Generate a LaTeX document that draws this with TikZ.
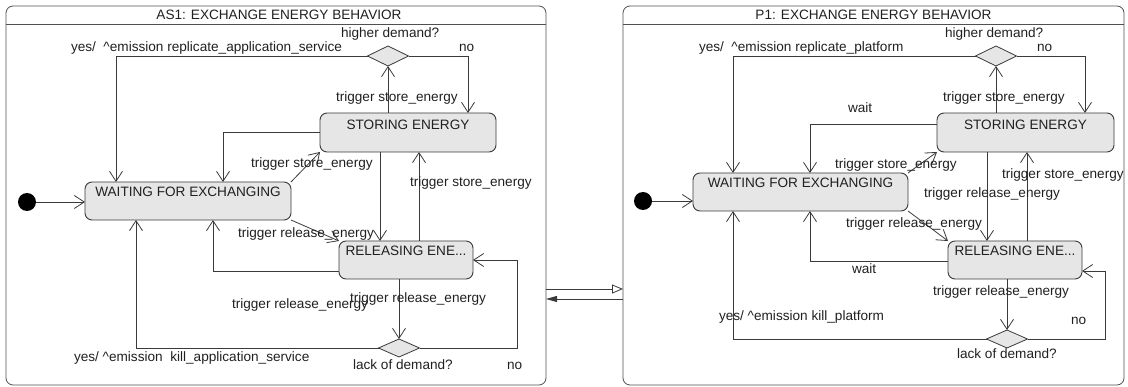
\documentclass[tikz,border=0pt]{standalone}
\usepackage{fontspec}
\setmainfont{Liberation Sans}
\usetikzlibrary{arrows.meta,shapes.geometric,calc}
\definecolor{lineclr}{HTML}{3A3A3A}
\definecolor{frameclr}{HTML}{505050}
\definecolor{statefill}{HTML}{E6E6E6}
\definecolor{txtclr}{HTML}{202020}

\begin{document}
\begin{tikzpicture}[x=1pt,y=-1pt,
  font=\fontsize{13.6}{16}\selectfont,
  every node/.style={inner sep=0pt, outer sep=0pt},
  frame/.style={rectangle, draw=frameclr, line width=0.8pt, rounded corners=7pt},
  state/.style={rectangle, draw=lineclr, fill=statefill, line width=0.9pt, rounded corners=7pt},
  statetxt/.style={text height=9.5pt, text depth=2.5pt, text=txtclr},
  choice/.style={diamond, draw=lineclr, fill=statefill, line width=0.8pt,
    minimum width=41pt, minimum height=20pt},
  init/.style={circle, fill=black, minimum size=18pt},
  lbl/.style={anchor=west, text height=9.5pt, text depth=2.5pt, text=txtclr},
  ttl/.style={text height=9.5pt, text depth=2.5pt, text=txtclr},
  trans/.style={draw=lineclr, line width=0.8pt, -{Straight Barb[length=10pt,width=13pt]}},
]
\useasboundingbox (0,0) rectangle (1128,387);

% ---------------- AS1 machine ----------------
\node[frame, minimum width=540pt, minimum height=379pt] (frameA) at (276,195.5) {};
\draw[frameclr, line width=0.8pt] ([yshift=-18pt]frameA.north west) -- ([yshift=-18pt]frameA.north east);
\node[ttl] (titleA) at ([xshift=3pt,yshift=-10pt]frameA.north) {AS1: EXCHANGE ENERGY BEHAVIOR};

\node[state, minimum width=206pt, minimum height=38pt] (waitA) at (188,201) {};
\node[statetxt] (waitAt) at ([yshift=-11pt]waitA.north) {WAITING FOR EXCHANGING};
\node[state, minimum width=176pt, minimum height=39pt] (storeA) at (408,132.5) {};
\node[statetxt] (storeAt) at ([yshift=-13pt]storeA.north) {STORING ENERGY};
\node[state, minimum width=134pt, minimum height=38pt] (relA) at (406,260) {};
\node[statetxt] (relAt) at ([yshift=-11pt]relA.north) {RELEASING ENE...};

\node[init] (iniA) at (27,202) {};
\node[choice] (hdA) at (388,56) {};
\node[choice, minimum height=18pt] (ldA) at (399,348) {};

\draw[trans] (iniA) -- (waitA.west |- iniA);
\draw[trans] (hdA.west) -| ([xshift=31pt]waitA.north west);
\draw[trans] (hdA.east) -| ([xshift=148pt]storeA.north west);
\draw[trans] (storeA.north -| hdA.south) -- (hdA.south);
\draw[trans] (storeA.west) -| ([xshift=138pt]waitA.north west);
\draw[trans] (waitA.north east) -- (storeA.south west);
\coordinate (dnA) at ([xshift=60pt]storeA.south west);
\draw[trans] (dnA) -- (dnA |- relA.north);
\coordinate (upA) at ([xshift=80pt]relA.north west);
\draw[trans] (upA) -- (upA |- storeA.south);
\draw[trans] (waitA.south east) -- (relA.north west);
\draw[trans] ([yshift=-11pt]relA.west) -| ([xshift=128pt]waitA.south west);
\draw[trans] (relA.south -| ldA.north) -- (ldA.north);
\draw[trans] (ldA.west) -| ([xshift=51pt]waitA.south west);
\coordinate (noA) at ([xshift=44pt]relA.east);
\draw[trans] (ldA.east) -| (noA) -- (relA.east);

\node[lbl] (lA1) at (341,34) {higher demand?};
\node[lbl] (lA2) at (71,48) {yes/~~\textasciicircum emission replicate\_application\_service};
\node[lbl] (lA3) at (459,48) {no};
\node[lbl] (lA4) at (336,98) {trigger store\_energy};
\node[lbl] (lA5) at (251,164) {trigger store\_energy};
\node[lbl] (lA6) at (410,183) {trigger store\_energy};
\node[lbl] (lA7) at (238,234) {trigger release\_energy};
\node[lbl] (lA8) at (232,305) {trigger release\_energy};
\node[lbl] (lA9) at (350,299) {trigger release\_energy};
\node[lbl] (lA10) at (74,358) {yes/~\textasciicircum emission~~kill\_application\_service};
\node[lbl] (lA11) at (353,366) {lack of demand?};
\node[lbl] (lA12) at (507,366) {no};

% ---------------- P1 machine ----------------
\node[frame, minimum width=501pt, minimum height=379pt] (frameB) at (873.5,195.5) {};
\draw[frameclr, line width=0.8pt] ([yshift=-18pt]frameB.north west) -- ([yshift=-18pt]frameB.north east);
\node[ttl] (titleB) at ([yshift=-10pt]frameB.north) {P1: EXCHANGE ENERGY BEHAVIOR};

\node[state, minimum width=215pt, minimum height=38pt] (waitB) at (800.5,192) {};
\node[statetxt] (waitBt) at ([yshift=-11pt]waitB.north) {WAITING FOR EXCHANGING};
\node[state, minimum width=177pt, minimum height=39pt] (storeB) at (1025.5,132.5) {};
\node[statetxt] (storeBt) at ([yshift=-13pt]storeB.north) {STORING ENERGY};
\node[state, minimum width=134pt, minimum height=38pt] (relB) at (1015,260) {};
\node[statetxt] (relBt) at ([yshift=-11pt]relB.north) {RELEASING ENE...};

\node[init] (iniB) at (643,201) {};
\node[choice] (hdB) at (996,56) {};
\node[choice, minimum height=18pt] (ldB) at (1007,339) {};

\draw[trans] (iniB) -- (waitB.west |- iniB);
\draw[trans] (hdB.west) -| ([xshift=40pt]waitB.north west);
\draw[trans] (hdB.east) -| ([xshift=148pt]storeB.north west);
\draw[trans] (storeB.north -| hdB.south) -- (hdB.south);
\draw[trans] ([yshift=8.5pt]storeB.west) -| ([xshift=117pt]waitB.north west);
\draw[trans] (waitB.north east) -- (storeB.south west);
\coordinate (dnB) at ([xshift=50pt]storeB.south west);
\draw[trans] (dnB) -- (dnB |- relB.north);
\coordinate (upB) at ([xshift=79pt]relB.north west);
\draw[trans] (upB) -- (upB |- storeB.south);
\draw[trans] (waitB.south east) -- (relB.north west);
\draw[trans] ([yshift=-1pt]relB.west) -| ([xshift=117pt]waitB.south west);
\draw[trans] (relB.south -| ldB.north) -- (ldB.north);
\draw[trans] (ldB.west) -| ([xshift=40pt]waitB.south west);
\coordinate (noB) at ([xshift=23pt,yshift=-11pt]relB.east);
\draw[trans] (ldB.east) -| (noB) -- (noB -| relB.east);

\node[lbl] (lB1) at (945,34) {higher demand?};
\node[lbl] (lB2) at (699,48) {yes/~~\textasciicircum emission replicate\_platform};
\node[lbl] (lB3) at (1037,48) {no};
\node[lbl] (lB4) at (943,98) {trigger store\_energy};
\node[lbl] (lB5) at (848,109) {wait};
\node[lbl] (lB6) at (835,165) {trigger store\_energy};
\node[lbl] (lB7) at (1002,175) {trigger store\_energy};
\node[lbl] (lB8) at (924,194) {trigger release\_energy};
\node[lbl] (lB9) at (846,224) {trigger release\_energy};
\node[lbl] (lB10) at (852,270) {wait};
\node[lbl] (lB11) at (933,292) {trigger release\_energy};
\node[lbl] (lB12) at (719,317) {yes/~\textasciicircum emission kill\_platform};
\node[lbl] (lB13) at (1071,321) {no};
\node[lbl] (lB14) at (957,355) {lack of demand?};

% ---------------- links between the two machines ----------------
\coordinate (linkA) at ([yshift=-93.5pt]frameA.east);
\coordinate (linkB) at ([yshift=-103.5pt]frameB.west);
\draw[lineclr, line width=0.8pt, -{Triangle[open, length=11pt, width=9pt]}] (linkA) -- (linkA -| frameB.west);
\draw[lineclr, line width=0.8pt, -{Triangle[length=11pt, width=6pt]}] (linkB) -- (linkB -| frameA.east);
\end{tikzpicture}
\end{document}
